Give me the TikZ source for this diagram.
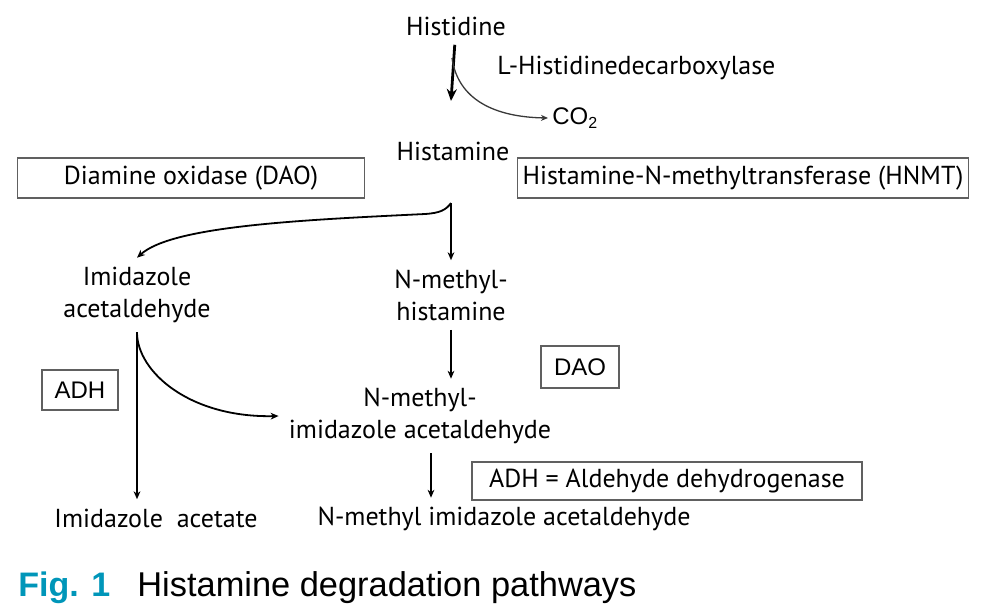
\documentclass[tikz,border=0pt]{standalone}
\usepackage{fontspec}
\setmainfont{PT Sans}
\newfontfamily\arialfont{Liberation Sans}
\usetikzlibrary{arrows.meta,calc}
\definecolor{figteal}{RGB}{0,150,185}
\tikzset{
  compound/.style={align=center, inner xsep=0pt, inner ysep=4.5pt,
    font=\fontsize{13}{16}\selectfont},
  enzyme/.style={draw=gray!75!black, line width=0.7pt, inner sep=0pt,
    font=\fontsize{13}{16}\selectfont},
  flow/.style={line width=0.9pt, -{Stealth[length=4pt,width=3.4pt]}},
}
\begin{document}
\begin{tikzpicture}[x=0.5pt, y=-0.5pt]
    \useasboundingbox (0, 0) rectangle (981, 607);

    % Histidine to histamine
    \path (456, 26) node [compound] (hisd) {Histidine};
    \path (497, 68) node [compound, anchor=west] (hdc) {L-Histidinedecarboxylase};
    \path (552, 118) node [anchor=west, inner sep=0pt,
          font=\arialfont\fontsize{12}{14}\selectfont] (co2) {CO\textsubscript{2}};
    \path (453, 151) node [compound] (hism) {Histamine};
    \path (451, 101) coordinate (hend);
    \path (452, 58) coordinate (hbranch);
    \draw [line width=1.4pt, -{Stealth[length=6pt,width=5pt]}] (hisd) -- (hend);
    \draw [gray!45!black, line width=0.65pt, -{Stealth[length=3.5pt,width=3pt]}]
          (hbranch) .. controls (458, 100) and (495, 117) .. ([xshift=-2pt]co2.west);

    % Enzymes on histamine
    \path (191, 178) node [enzyme, minimum width=173.5pt, minimum height=20pt]
          (dao) {Diamine oxidase (DAO)};
    \path (743, 178) node [enzyme, minimum width=225.5pt, minimum height=20pt]
          (hnmt) {Histamine-N-methyltransferase (HNMT)};

    % First products
    \path (137, 295) node [compound] (ia) {Imidazole\\acetaldehyde};
    \path (451, 295) node [compound] (nmh) {N-methyl-\\histamine};
    \path (451, 203) coordinate (split);
    \draw [flow] (split) -- (nmh);
    \draw [flow] (split) .. controls (446, 210) and (440, 213) .. (425, 214)
          .. controls (300, 220) and (172, 226) .. (ia.north);

    % Second products
    \path (420, 416) node [compound] (nmia) {N-methyl-\\imidazole acetaldehyde};
    \path (156, 518) node [compound] (iac) {Imidazole\ \ acetate};
    \path (504, 519) node [compound] (nmiac) {N-methyl imidazole acetaldehyde};
    \draw [flow] (ia.south) -- (ia.south |- iac.north);
    \draw [flow] (ia.south) .. controls (137, 372) and (190, 418) .. ([xshift=-5pt]nmia.west);
    \draw [flow] (nmh) -- (nmh |- nmia.north);
    \draw [flow] (nmia.south -| 431, 0) -- (431, 0 |- nmiac.north);

    % Enzyme labels
    \path (80, 390) node [enzyme, minimum width=38pt, minimum height=20pt,
          font=\arialfont\fontsize{12}{14}\selectfont] (adh) {ADH};
    \path (580, 367) node [enzyme, minimum width=39pt, minimum height=21pt,
          font=\arialfont\fontsize{12}{14}\selectfont] (dao2) {DAO};
    \path (667, 481) node [enzyme, minimum width=195pt, minimum height=19pt]
          (adhkey) {ADH = Aldehyde dehydrogenase};

    % Caption
    \path (18, 596) node [anchor=base west, inner sep=0pt, text=figteal,
          font=\arialfont\bfseries\fontsize{17}{20}\selectfont] (fig) {Fig. 1};
    \path (137, 596) node [anchor=base west, inner sep=0pt,
          font=\arialfont\fontsize{17.2}{20}\selectfont] (title) {Histamine degradation pathways};
\end{tikzpicture}
\end{document}
